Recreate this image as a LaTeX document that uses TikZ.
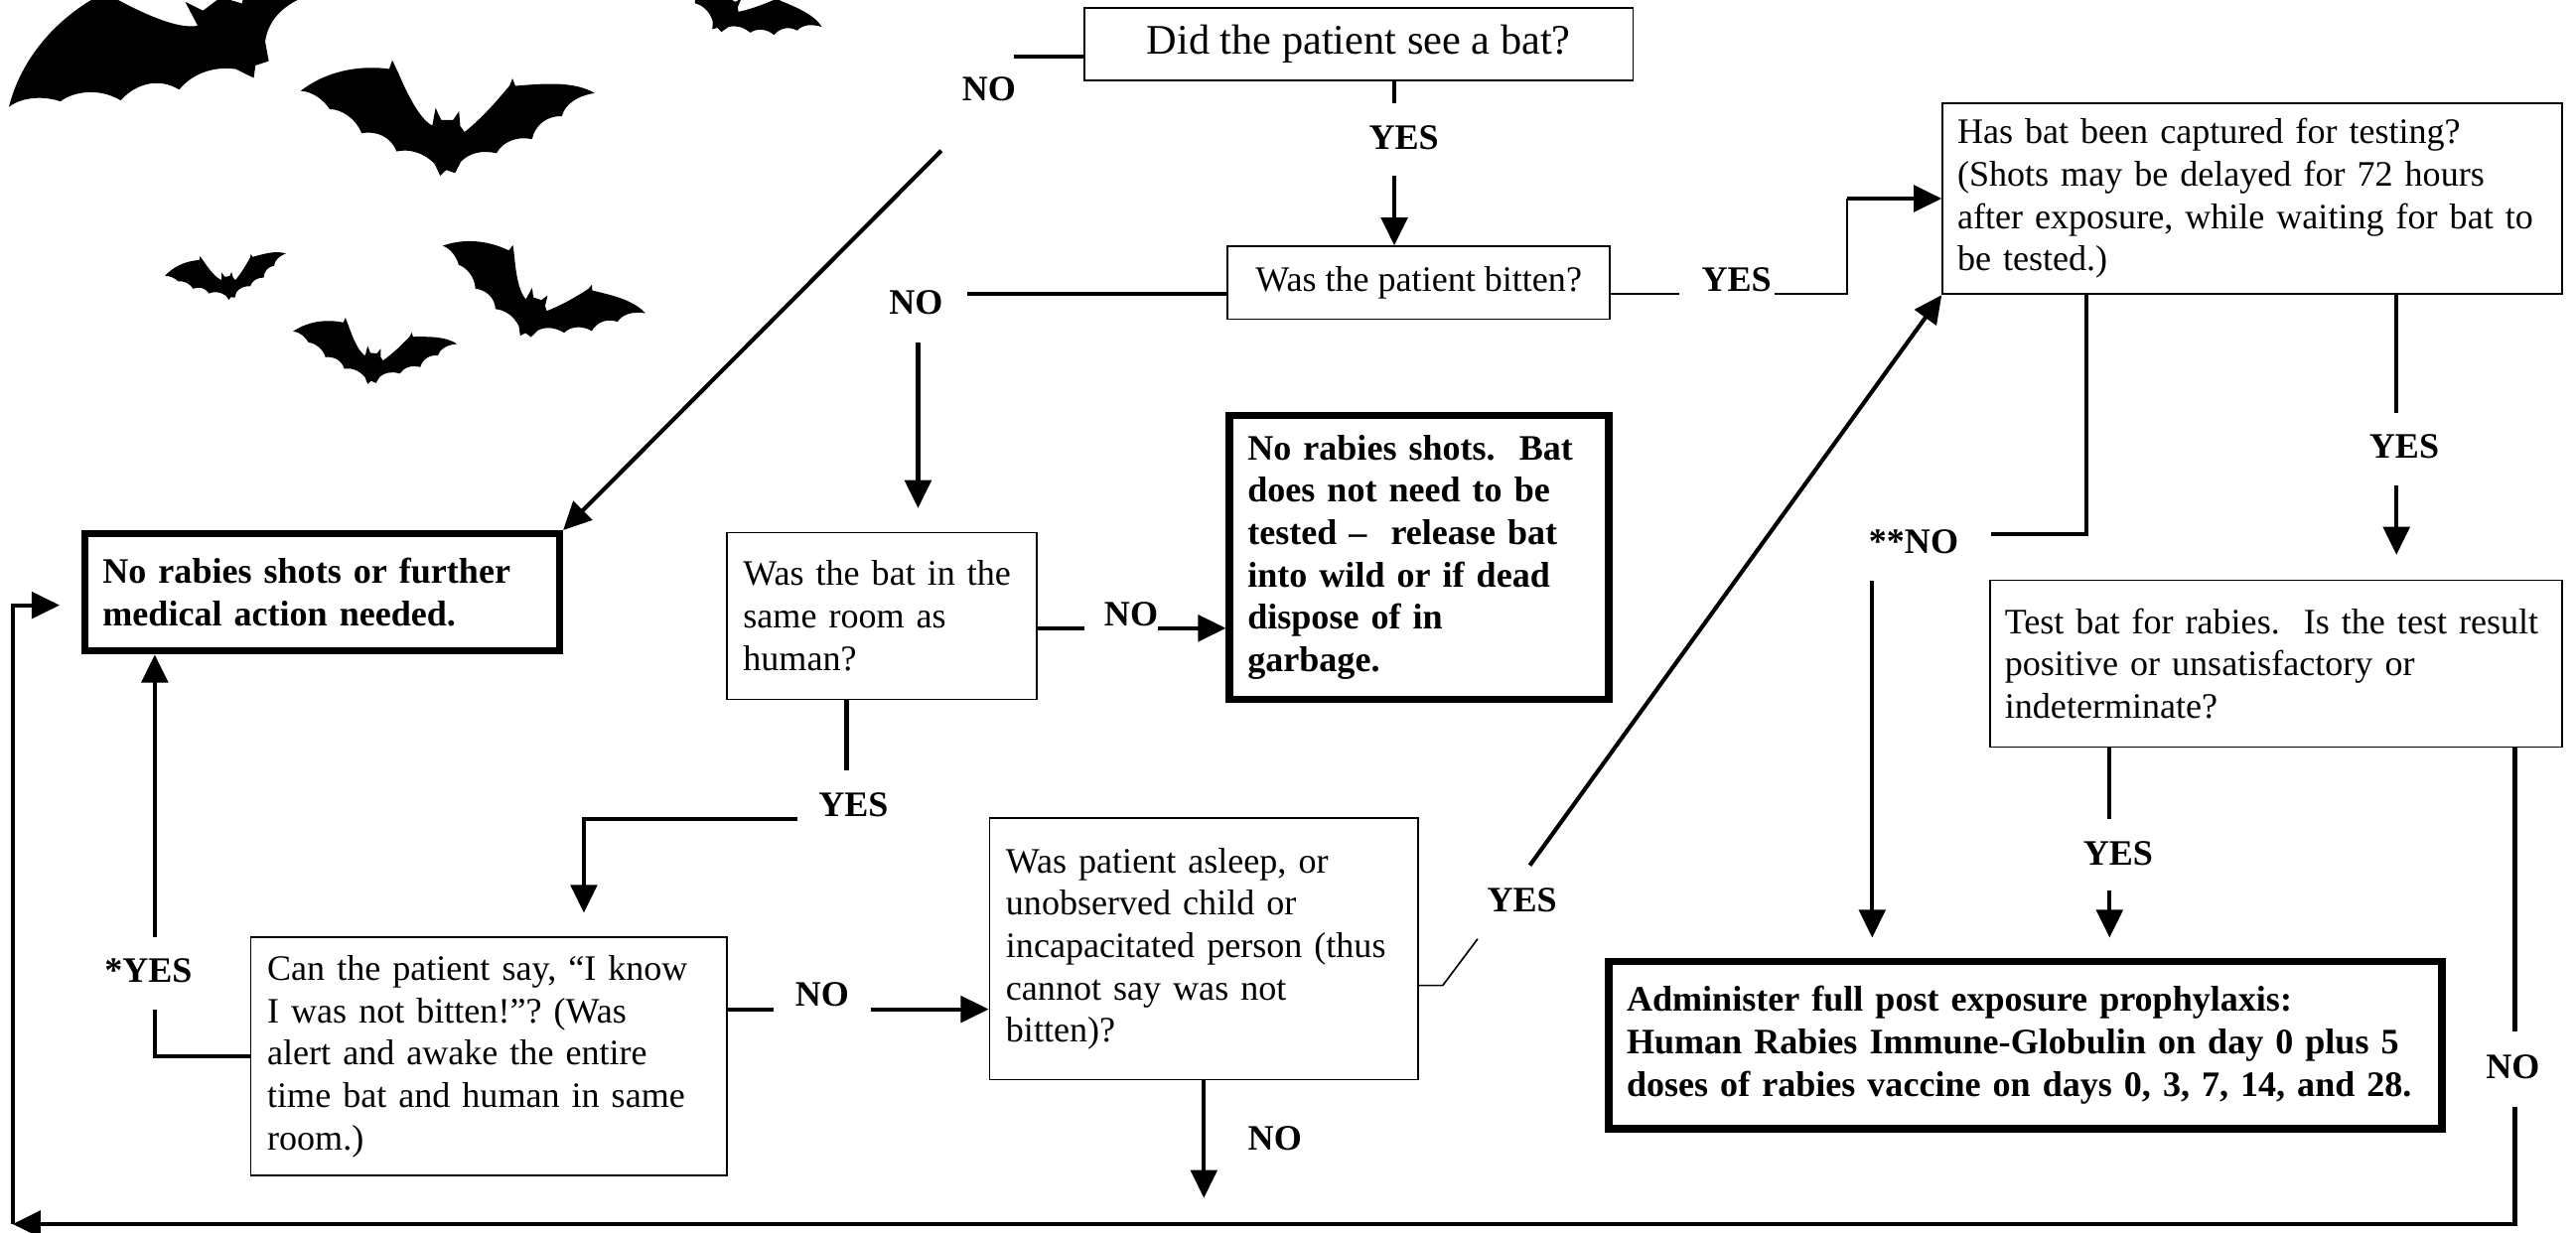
\documentclass[tikz,border=0pt]{standalone}
\usepackage{fontspec}
\setmainfont{Liberation Serif}
\usepackage{tikz}
\usetikzlibrary{positioning, arrows.meta, calc}

\newcommand{\boxfont}{\fontsize{21.8}{25.8}\selectfont}
\newcommand{\headfont}{\fontsize{25.6}{29}\selectfont}

\tikzstyle{qnode} = [%
  rectangle,
  draw=black,
  line width=1pt,
  inner xsep=10pt,
  inner ysep=4pt,
  align=left,
  font=\boxfont
]
\tikzstyle{anode} = [%
  rectangle,
  draw=black,
  line width=4.4pt,
  inner xsep=11pt,
  inner ysep=4pt,
  align=left,
  font=\boxfont\bfseries
]

% bat silhouette, origin at the body
\tikzset{
  pics/bat/.style={code={
    \fill[black] (-50,-14) .. controls (-40,-22) and (-28,-23) .. (-20,-22)
      -- (-19,-25) -- (-17,-21)
      .. controls (-13,-12) and (-9,-5) .. (-5,-3)
      -- (-4,-9) -- (-2,-5) -- (2,-5) -- (4,-8) -- (4.5,-3)
      -- (6,-1) .. controls (12,-6) and (17,-12) .. (21,-17)
      -- (22,-19.5) -- (23,-17)
      .. controls (33,-18) and (43,-19) .. (50,-15)
      .. controls (44,-14) and (40,-11) .. (39,-7)
      .. controls (34,-7) and (30,-4) .. (29,1)
      .. controls (24,0) and (19,2) .. (17,6)
      .. controls (12,5) and (8,6) .. (5,9)
      -- (3,13) -- (0,12) -- (-2,14) -- (-4,10)
      .. controls (-8,6) and (-13,5) .. (-17,6)
      .. controls (-19,1) and (-24,-1) .. (-29,0)
      .. controls (-31,-5) and (-36,-8) .. (-40,-8)
      .. controls (-42,-11) and (-46,-14) .. (-50,-14) -- cycle;
  }}
}

\begin{document}
\frenchspacing
\begin{tikzpicture}[%
  x=1pt, y=-1pt,
  >={Triangle[length=17pt,width=16pt]},
  every node/.style={text=black},
  lbl/.style={font=\boxfont\bfseries, inner sep=0pt},
  conn/.style={line width=2.5pt},
  thinconn/.style={line width=1pt}
]
  \useasboundingbox (0,0) rectangle (1568,750.2);

  % Bats
  \pic[scale=2.7, rotate=37] at (136,14) {bat};
  \pic[scale=1.12, rotate=-28] at (443,5) {bat};
  \pic[scale=1.79, rotate=-1] at (272,82) {bat};
  \pic[scale=0.75, rotate=10] at (139,172) {bat};
  \pic[scale=1.3, rotate=-19] at (325,188) {bat};
  \pic[scale=1.0, rotate=-5] at (227,220) {bat};

  % Nodes
  \node[qnode, font=\headfont, align=center, minimum width=334pt, minimum height=44pt] (see) at (827,27) {Did the patient see a bat?};
  \node[qnode, align=center, minimum width=232.6pt, minimum height=44.4pt, below=99.9pt of see, xshift=36.6pt] (bitten) {Was the patient bitten?};
  \node[qnode, text width=359.1pt, inner xsep=9pt, minimum height=116.4pt, below right=12.7pt and 187.4pt of see] (captured) {Has bat been captured for testing?\\(Shots may be delayed for 72 hours\\after exposure, while waiting for bat to\\be tested.)};
  \node[qnode, text width=168.8pt, minimum height=101.6pt, below=128.9pt of bitten, xshift=-326.8pt] (room) {Was the bat in the\\same room as\\human?};
  \node[anode, text width=208.8pt, minimum height=172.7pt, right=114.5pt of room, yshift=35.7pt] (released) {No rabies shots.\ \ Bat\\does not need to be\\tested --\ \ release bat\\into wild or if dead\\dispose of in\\garbage.};
  \node[anode, text width=267.1pt, minimum height=71.4pt, left=99.1pt of room, yshift=14.3pt] (none) {No rabies shots or further\\medical action needed.};
  \node[qnode, text width=269.6pt, minimum height=145pt, below=144pt of room, xshift=-239.3pt] (say) {Can the patient say, “I know\\I was not bitten!”? (Was\\alert and awake the entire\\time bat and human in same\\room.)};
  \node[qnode, text width=241pt, minimum height=159.3pt, right=159pt of say, yshift=65.5pt] (asleep) {Was patient asleep, or\\unobserved child or\\incapacitated person (thus\\cannot say was not\\bitten)?};
  \node[qnode, text width=330.2pt, inner xsep=9pt, minimum height=101.5pt, below=173.2pt of captured, xshift=14.5pt] (test) {Test bat for rabies.\ \ Is the test result\\positive or unsatisfactory or\\indeterminate?};
  \node[anode, text width=485.2pt, minimum height=101.8pt, below=127.9pt of test, xshift=-152.7pt] (pep) {Administer full post exposure prophylaxis:\\Human Rabies Immune-Globulin on day 0 plus 5\\doses of rabies vaccine on days 0, 3, 7, 14, and 28.};

  % Connector ends
  \coordinate (seeNoEnd) at (617.4,34.3);
  \coordinate (seeNoStart) at (573,91.7);
  \coordinate (seeYesA) at (848.7,63.1);
  \coordinate (seeYesB) at (848.7,106.8);
  \coordinate (bitNoA) at (588.5,178.8);
  \coordinate (bitNoB) at (558.8,208.6);
  \coordinate (bitNoC) at (558.8,309.4);
  \coordinate (bitYesA) at (1022.2,178.8);
  \coordinate (bitYesB) at (1080.1,178.8);
  \coordinate (bitYesC) at (1124.4,178.8);
  \coordinate (roomNoA) at (660.3,382.5);
  \coordinate (roomNoB) at (705.1,382.5);
  \coordinate (roomYesA) at (515.3,469.2);
  \coordinate (roomYesB) at (485.6,498.6);
  \coordinate (roomYesC) at (355.4,555.8);
  \coordinate (sayYesA) at (94.2,614.5);
  \coordinate (sayYesB) at (94.2,570.5);
  \coordinate (sayNoA) at (470.8,614.5);
  \coordinate (sayNoB) at (530,614.5);
  \coordinate (sleepYesA) at (878.2,600);
  \coordinate (sleepYesB) at (899.4,571.7);
  \coordinate (sleepYesC) at (931.2,526.9);
  \coordinate (sleepNo) at (732.8,729.4);
  \coordinate (capNoA) at (1269.8,325.1);
  \coordinate (capNoB) at (1212.2,325.1);
  \coordinate (capNoC) at (1139.6,353.7);
  \coordinate (capNoD) at (1139.6,570.9);
  \coordinate (capYesA) at (1458.7,251.7);
  \coordinate (capYesB) at (1458.7,295.7);
  \coordinate (capYesC) at (1458.7,337.8);
  \coordinate (testYesA) at (1284.1,498.9);
  \coordinate (testYesB) at (1284.1,542.3);
  \coordinate (testYesC) at (1284.1,570.9);
  \coordinate (testNoA) at (1530.8,628);
  \coordinate (testNoB) at (1530.8,673.8);
  \coordinate (loopBR) at (1530.8,745.3);
  \coordinate (loopBL) at (7.7,745.3);
  \coordinate (loopTL) at (7.7,368.5);
  \coordinate (loopEnd) at (36.3,368.5);

  % Labels
  \node[lbl] (noSee) at (602,54.4) {NO};
  \node[lbl] (yesSee) at (854.5,83.6) {YES};
  \node[lbl] (noBit) at (557.6,184.4) {NO};
  \node[lbl] (yesBit) at (1057,170.3) {YES};
  \node[lbl] (noRoom) at (688.5,374.2) {NO};
  \node[lbl] (yesRoom) at (519.5,489.8) {YES};
  \node[lbl] (yesSay) at (90.3,591) {*YES};
  \node[lbl] (noSay) at (500.4,605.7) {NO};
  \node[lbl] (yesSleep) at (926.4,547.8) {YES};
  \node[lbl] (noSleep) at (776,692.9) {NO};
  \node[lbl] (noCap) at (1164.8,330) {**NO};
  \node[lbl] (yesCap) at (1463.4,271.9) {YES};
  \node[lbl] (yesTest) at (1289.3,519.5) {YES};
  \node[lbl] (noTest) at (1529.6,649.5) {NO};

  % Edges
  \draw[conn] (see.west |- seeNoEnd) -- (seeNoEnd);
  \draw[conn,->] (seeNoStart) -- (none.north east);
  \draw[conn] (see.south -| seeYesA) -- (seeYesA);
  \draw[conn,->] (seeYesB) -- (bitten.north -| seeYesB);

  \draw[conn] (bitten.west |- bitNoA) -- (bitNoA);
  \draw[conn,->] (bitNoB) -- (bitNoC);
  \draw[thinconn] (bitten.east |- bitYesA) -- (bitYesA);
  \draw[thinconn] (bitYesB) -- (bitYesC) -- (bitYesC |- captured.west);
  \draw[conn,->] (bitYesC |- captured.west) -- (captured.west);

  \draw[conn] (room.east |- roomNoA) -- (roomNoA);
  \draw[conn,->] (roomNoB) -- (released.west |- roomNoB);
  \draw[conn] (room.south -| roomYesA) -- (roomYesA);
  \draw[conn,->] (roomYesB) -| (roomYesC);

  \draw[conn] (say.west) -| (sayYesA);
  \draw[conn,->] (sayYesB) -- (none.south -| sayYesB);
  \draw[conn] (say.east |- sayNoA) -- (sayNoA);
  \draw[conn,->] (sayNoB) -- (asleep.west |- sayNoB);

  \draw[thinconn] (asleep.east |- sleepYesA) -- (sleepYesA) -- (sleepYesB);
  \draw[conn,->] (sleepYesC) -- (captured.south west);
  \draw[conn,->] (asleep.south -| sleepNo) -- (sleepNo);

  \draw[conn] (captured.south -| capNoA) -- (capNoA) -- (capNoB);
  \draw[conn,->] (capNoC) -- (capNoD);
  \draw[conn] (captured.south -| capYesA) -- (capYesA);
  \draw[conn,->] (capYesB) -- (capYesC);

  \draw[conn] (test.south -| testYesA) -- (testYesA);
  \draw[conn,->] (testYesB) -- (testYesC);
  \draw[conn] (test.south -| testNoA) -- (testNoA);

  % Loop back
  \draw[conn,->] (testNoB) -- (loopBR) -- (loopBL);
  \draw[conn,->] (loopBL) -- (loopTL) -- (loopEnd);

\end{tikzpicture}
\end{document}
